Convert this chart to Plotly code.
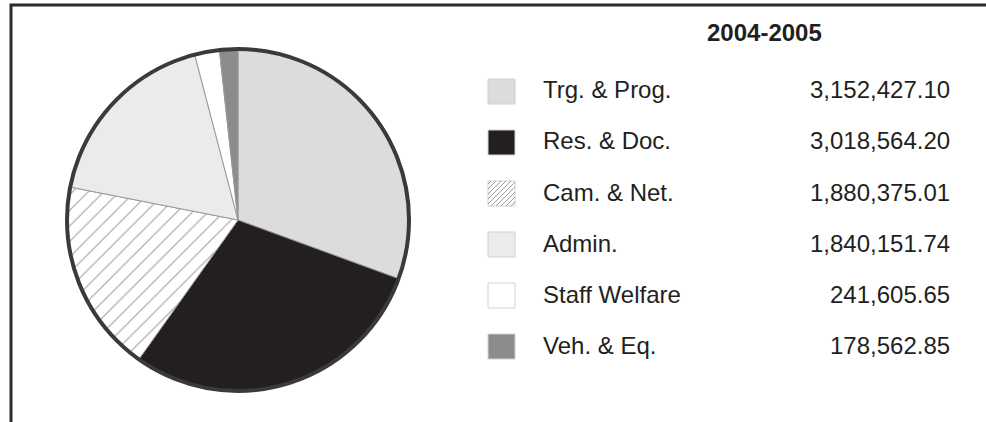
import plotly.graph_objects as go

# ---- data ----
title_text = "2004-2005"
categories = ["Trg. & Prog.", "Res. & Doc.", "Cam. & Net.", "Admin.", "Staff Welfare", "Veh. & Eq."]
values = [3152427.10, 3018564.20, 1880375.01, 1840151.74, 241605.65, 178562.85]
value_labels = ["3,152,427.10", "3,018,564.20", "1,880,375.01", "1,840,151.74", "241,605.65", "178,562.85"]

# ---- styles ----
colors = ["#dcdcdc", "#231f20", "#ffffff", "#ebebee", "#ffffff", "#8a8c8e"]
patterns = ["", "", "/", "", "", ""]
FONT = "Liberation Sans, Arial, Helvetica, sans-serif"
W, H = 986, 422


def X(px):
    return px / W


def Y(py):
    return 1 - py / H


# pie placement (pixels)
cx, cy, r = 238, 220, 171
dom_x = [X(cx - r), X(cx + r)]
dom_y = [Y(cy + r), Y(cy - r)]

fig = go.Figure()
fig.add_trace(go.Pie(
    labels=categories, values=values, sort=False, direction="clockwise", rotation=0,
    marker=dict(colors=colors, line=dict(color="#9a9a9a", width=1),
                pattern=dict(shape=patterns, fgcolor="#a0a0a0", bgcolor="#ffffff",
                             size=11, solidity=0.1)),
    textinfo="none", hoverinfo="label+value+percent",
    domain=dict(x=dom_x, y=dom_y), showlegend=False,
))
# outer ring
fig.add_trace(go.Pie(
    labels=["total"], values=[sum(values)], sort=False,
    marker=dict(colors=["rgba(0,0,0,0)"], line=dict(color="#3a3a3a", width=4)),
    textinfo="none", hoverinfo="skip",
    domain=dict(x=dom_x, y=dom_y), showlegend=False,
))

shapes = []
annotations = []

# frame (top and left edges)
shapes.append(dict(type="path", xref="paper", yref="paper",
                   path=f"M {X(986)} {Y(5)} L {X(11)} {Y(5)} L {X(11)} {Y(422)}",
                   line=dict(color="#2b2b2b", width=3)))

# title
annotations.append(dict(text=f"<b>{title_text}</b>", x=X(764), y=Y(32), xref="paper", yref="paper",
                        xanchor="center", yanchor="middle", showarrow=False,
                        font=dict(family=FONT, size=24, color="#231f20")))

row0, gap = 91.5, 51.0
sw_x0, sw_x1 = 488, 515
for i, (cat, val, col, pat) in enumerate(zip(categories, value_labels, colors, patterns)):
    yc = row0 + i * gap
    shapes.append(dict(type="rect", xref="paper", yref="paper",
                       x0=X(sw_x0), x1=X(sw_x1), y0=Y(yc - 12.5), y1=Y(yc + 12.5),
                       fillcolor=col, line=dict(color="#d2d2d2", width=1)))
    if pat == "/":
        segs = []
        step = 5
        size = sw_x1 - sw_x0
        top, bot = yc - 12.5, yc + 12.5
        for k in range(-size, size + 1, step):
            xa, ya = sw_x0 + k, bot
            xb, yb = sw_x0 + k + (bot - top), top
            if xa < sw_x0:
                ya = bot - (sw_x0 - xa)
                xa = sw_x0
            if xb > sw_x1:
                yb = top + (xb - sw_x1)
                xb = sw_x1
            if xa < xb and ya > top and yb < bot:
                segs.append(f"M {X(xa)} {Y(ya)} L {X(xb)} {Y(yb)}")
        shapes.append(dict(type="path", xref="paper", yref="paper", path=" ".join(segs),
                           line=dict(color="#9a9a9a", width=1)))
    annotations.append(dict(text=cat, x=X(541), y=Y(yc - 1.5), xref="paper", yref="paper",
                            xanchor="left", yanchor="middle", showarrow=False,
                            font=dict(family=FONT, size=24, color="#231f20")))
    annotations.append(dict(text=val, x=X(952), y=Y(yc - 1.5), xref="paper", yref="paper",
                            xanchor="right", yanchor="middle", showarrow=False,
                            font=dict(family=FONT, size=24, color="#231f20")))

fig.update_layout(
    width=W, height=H, margin=dict(l=0, r=0, t=0, b=0),
    paper_bgcolor="white", plot_bgcolor="white",
    shapes=shapes, annotations=annotations, showlegend=False,
)

fig.write_html("out.html", config={"displayModeBar": False},
               post_script="document.body.style.margin='0';document.body.style.padding='0';")
